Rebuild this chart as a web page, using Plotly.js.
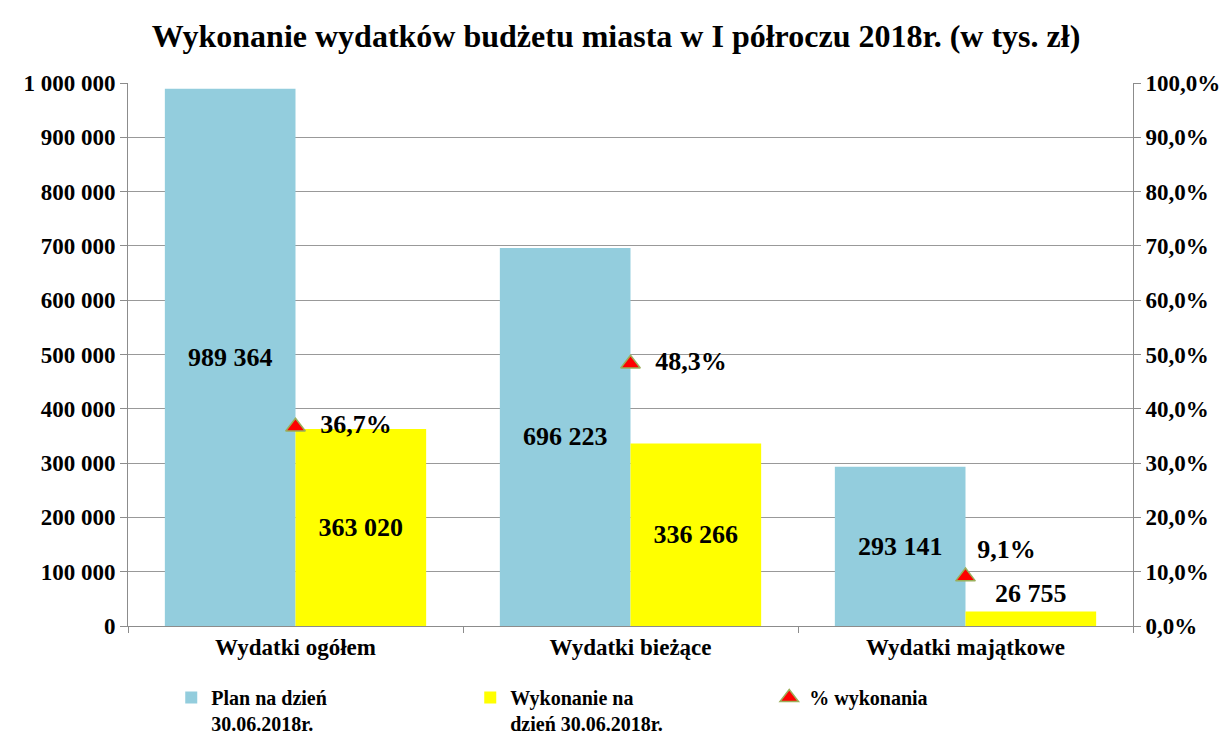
<!DOCTYPE html>
<html>
<head>
<meta charset="utf-8">
<script src="https://cdn.plot.ly/plotly-3.0.1.min.js"></script>
<style>html,body{margin:0;padding:0;background:#fff;}#chart{width:1232px;height:738px;}</style>
</head>
<body>
<div id="chart"></div>
<script>
const categories = ["Wydatki ogółem", "Wydatki bieżące", "Wydatki majątkowe"];
const planValues = [989364, 696223, 293141];
const wykonanieValues = [363020, 336266, 26755];
const procentValues = [0.367, 0.483, 0.091];
const seriesNames = ["Plan na dzień<br>30.06.2018r.", "Wykonanie na<br>dzień 30.06.2018r.", "% wykonania"];
const titleText = "Wykonanie wydatków budżetu miasta w I półroczu 2018r. (w tys. zł)";

const FONT = "'Liberation Serif', 'Times New Roman', serif";
const gray = "#8c8c8c";

const traces = [
  {
    type: "bar", name: seriesNames[0], x: categories, y: planValues,
    marker: {color: "#93CDDD"},
    texttemplate: "%{y:,.0f}", textposition: "inside", insidetextanchor: "middle",
    textfont: {family: FONT, size: 26, color: "#000", weight: 700},
    constraintext: "none", cliponaxis: false, hoverinfo: "skip"
  },
  {
    type: "bar", name: seriesNames[1], x: categories, y: wykonanieValues,
    marker: {color: "#FFFF00"},
    texttemplate: "%{y:,.0f}", textposition: ["inside", "inside", "outside"], insidetextanchor: "middle",
    textfont: {family: FONT, size: 26, color: "#000", weight: 700},
    outsidetextfont: {family: FONT, size: 26, color: "#000", weight: 700},
    constraintext: "none", cliponaxis: false, hoverinfo: "skip"
  },
  {
    type: "scatter", mode: "markers+text", name: seriesNames[2], x: categories, y: procentValues,
    yaxis: "y2",
    marker: {symbol: "triangle-up", size: 17, color: "#FF0000", line: {color: "#9BAF5A", width: 1.5}},
    texttemplate: ["  %{y:.1%}", "  %{y:.1%}", "%{y:.1%}"],
    textposition: ["middle right", "middle right", "top right"],
    textfont: {family: FONT, size: 26, color: "#000", weight: 700},
    cliponaxis: false, hoverinfo: "skip"
  }
];

const layout = {
  width: 1232, height: 738,
  paper_bgcolor: "#fff", plot_bgcolor: "#fff",
  separators: ", ",
  font: {family: FONT, color: "#000", size: 20, weight: 700},
  margin: {l: 128, r: 99, t: 83, b: 112},
  title: {
    text: titleText, x: 0.5, xanchor: "center", y: 1 - 36/738, yref: "container", yanchor: "middle",
    font: {family: FONT, size: 32, color: "#000", weight: 700}
  },
  barmode: "group", bargap: 0.22, bargroupgap: 0,
  showlegend: true,
  legend: {
    orientation: "h", xref: "container", yref: "container", x: 0.139, y: 1 - 678/738,
    xanchor: "left", yanchor: "top", valign: "top",
    entrywidthmode: "pixels", entrywidth: 254,
    font: {family: FONT, size: 20, color: "#000", weight: 700},
    traceorder: "normal", itemclick: false
  },
  xaxis: {
    type: "category",
    showline: true, linecolor: gray, linewidth: 1,
    ticks: "outside", tickson: "boundaries", ticklen: 6, tickcolor: gray,
    tickfont: {family: FONT, size: 23, color: "#000", weight: 700},
    showgrid: false, fixedrange: true
  },
  yaxis: {
    range: [0, 1000000], dtick: 100000, tickformat: ",.0f",
    showline: true, linecolor: gray, linewidth: 1,
    ticks: "outside", ticklen: 7, tickcolor: gray,
    showgrid: true, gridcolor: "#999999", gridwidth: 1,
    zeroline: false,
    tickfont: {family: FONT, size: 23, color: "#000", weight: 700},
    fixedrange: true
  },
  yaxis2: {
    overlaying: "y", side: "right",
    range: [0, 1], dtick: 0.1, tickformat: ".1%",
    showline: true, linecolor: gray, linewidth: 1,
    ticks: "outside", ticklen: 7, tickcolor: gray,
    showgrid: false, zeroline: false,
    tickfont: {family: FONT, size: 23, color: "#000", weight: 700},
    fixedrange: true
  }
};

Plotly.newPlot("chart", traces, layout, {displayModeBar: false, staticPlot: true});
</script>
</body>
</html>
